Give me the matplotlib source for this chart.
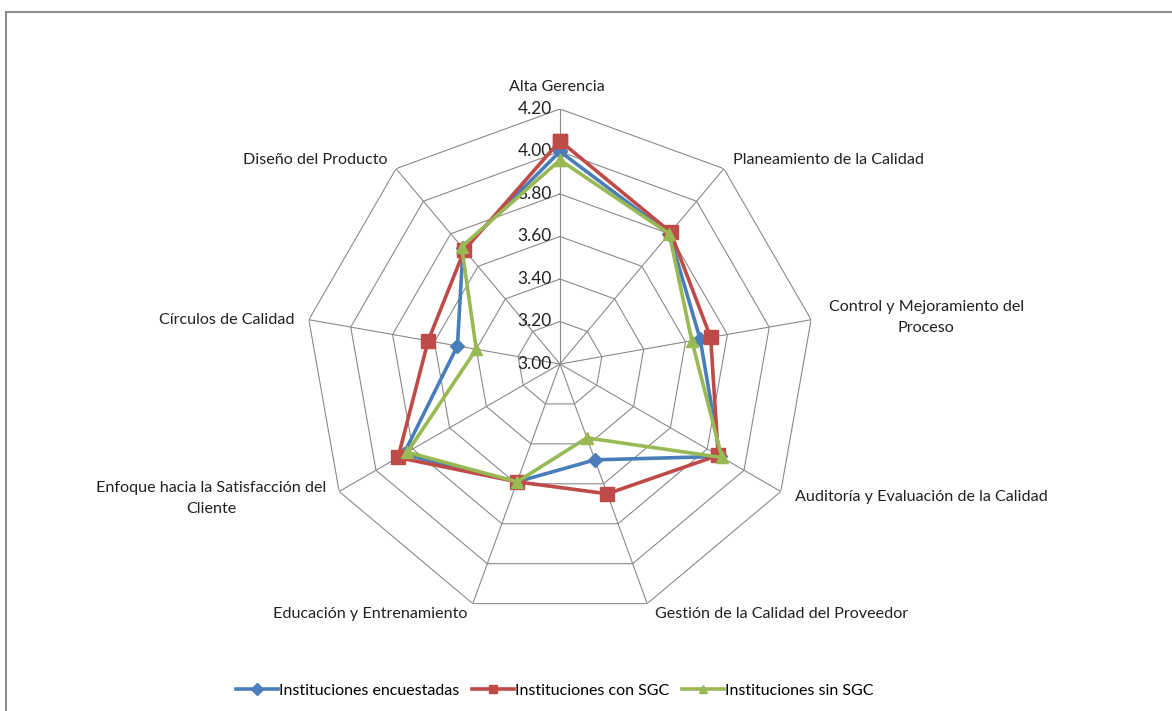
import numpy as np
import matplotlib.pyplot as plt
from matplotlib.patches import Rectangle

plt.rcParams['font.family'] = ['Lato', 'DejaVu Sans']

categories = ['Alta Gerencia', 'Planeamiento de la Calidad',
              'Control y Mejoramiento del\nProceso',
              'Auditoría y Evaluación de la Calidad',
              'Gestión de la Calidad del Proveedor',
              'Educación y Entrenamiento',
              'Enfoque hacia la Satisfacción del\nCliente',
              'Círculos de Calidad', 'Diseño del Producto']

encuestadas = [4.00, 3.80, 3.67, 3.87, 3.48, 3.59, 3.85, 3.49, 3.71]
con_sgc = [4.05, 3.81, 3.72, 3.86, 3.65, 3.59, 3.88, 3.63, 3.70]
sin_sgc = [3.96, 3.80, 3.63, 3.88, 3.37, 3.59, 3.83, 3.40, 3.72]

ticks = [3.00, 3.20, 3.40, 3.60, 3.80, 4.00, 4.20]

fig = plt.figure(figsize=(11.72, 7.11), dpi=100)
ax = fig.add_axes([0.2602, 0.1294, 0.4352, 0.7173], projection='polar')
ax.set_theta_offset(np.pi / 2)
ax.set_theta_direction(-1)
ax.set_ylim(3.0, 4.2)
ax.grid(False)
ax.spines['polar'].set_visible(False)
ax.set_xticks([])
ax.set_yticks([])
ax.patch.set_alpha(0)

n = len(categories)
theta = np.arange(n) * 2 * np.pi / n
closed = np.append(theta, theta[0])

# polygon rings and spokes
for t in ticks[1:]:
    ax.plot(closed, [t] * (n + 1), color='#8a8a8a', lw=0.8, zorder=1)
for a in theta:
    ax.plot([a, a], [3.0, 4.2], color='#8a8a8a', lw=0.8, zorder=1)

# value labels up the first spoke
for t in ticks:
    ax.annotate('%.2f' % t, xy=(0, t), xytext=(-8, 0), textcoords='offset pixels',
                ha='right', va='center', fontsize=12.5, color='#222222')

series = [('Instituciones encuestadas', encuestadas, '#4A7EBB', 'D', 7),
          ('Instituciones con SGC', con_sgc, '#BE4B48', 's', 10),
          ('Instituciones sin SGC', sin_sgc, '#98B954', '^', 9)]
for name, vals, col, mk, ms in series:
    ax.plot(closed, vals + vals[:1], color=col, lw=2.6, marker=mk, markersize=ms,
            label=name, zorder=3, clip_on=False)

# category labels
offsets = [(-3, 22, 'center'), (9, 9, 'left'), (115, 2, 'center'),
           (14, -6, 'left'), (8, -10, 'left'), (-5, -10, 'right'),
           (-128, -7, 'center'), (-14, 0, 'right'), (-9, 9, 'right')]
for a, lab, (dx, dy, ha) in zip(theta, categories, offsets):
    ax.annotate(lab, xy=(a, 4.2), xytext=(dx, dy), textcoords='offset pixels',
                ha=ha, va='center', multialignment='center', fontsize=11.6,
                color='#222222', linespacing=1.6)

leg = fig.legend(loc='center', bbox_to_anchor=(555 / 1172, 1 - 691 / 711), ncol=3,
                 frameon=False, fontsize=11.5, handlelength=2.6, columnspacing=0.8,
                 handletextpad=0.1)
for h in leg.legend_handles:
    h.set_markersize(6)
    h.set_linewidth(2.6)

fig.patches.append(Rectangle((6 / 1172, -0.05), 1.2, 1 - 12 / 711 + 0.05,
                             transform=fig.transFigure, fill=False,
                             edgecolor='#8c8c8c', lw=1.5))

fig.savefig('out.png', dpi=100)
